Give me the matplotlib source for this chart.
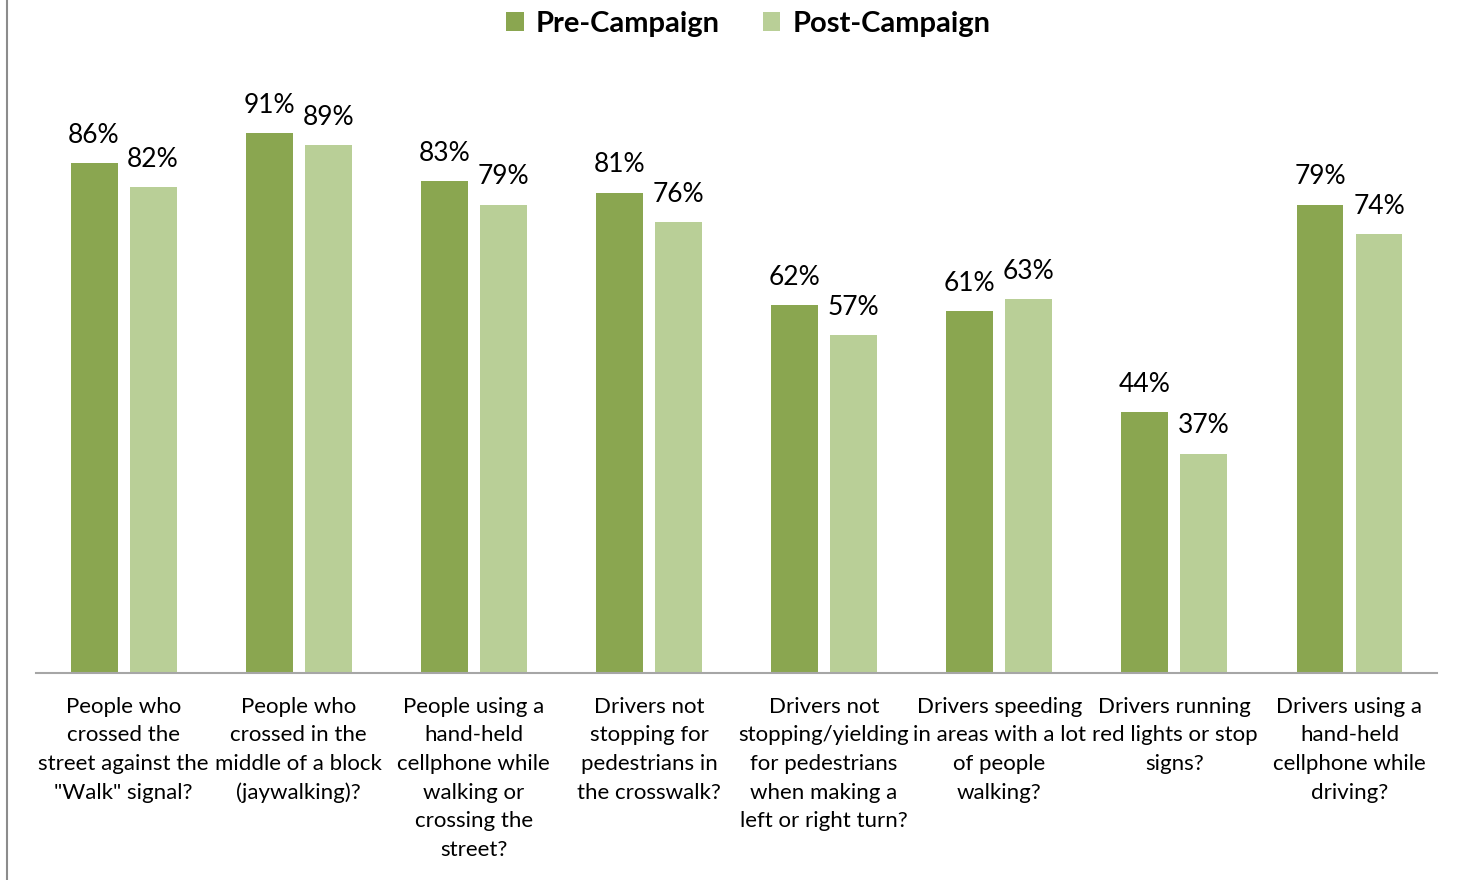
import matplotlib
matplotlib.use("Agg")
import matplotlib.pyplot as plt
import numpy as np
from matplotlib.lines import Line2D

categories = [
    'People who\ncrossed the\nstreet against the\n"Walk" signal?',
    'People who\ncrossed in the\nmiddle of a block\n(jaywalking)?',
    'People using a\nhand-held\ncellphone while\nwalking or\ncrossing the\nstreet?',
    'Drivers not\nstopping for\npedestrians in\nthe crosswalk?',
    'Drivers not\nstopping/yielding\nfor pedestrians\nwhen making a\nleft or right turn?',
    'Drivers speeding\nin areas with a lot\nof people\nwalking?',
    'Drivers running\nred lights or stop\nsigns?',
    'Drivers using a\nhand-held\ncellphone while\ndriving?',
]
pre = [86, 91, 83, 81, 62, 61, 44, 79]
post = [82, 89, 79, 76, 57, 63, 37, 74]

plt.rcParams['font.family'] = ['Lato', 'DejaVu Sans']

fig = plt.figure(figsize=(14.64, 8.8), dpi=100)
ax = fig.add_axes([0.0246, 0.2352, 0.957, 0.6738])

x = np.arange(len(categories))
w = 0.268
off = 0.1686
b1 = ax.bar(x - off, pre, w, color='#8aa650', label='Pre-Campaign')
b2 = ax.bar(x + off, post, w, color='#b9cf97', label='Post-Campaign')

for bars, vals in ((b1, pre), (b2, post)):
    for r, v in zip(bars, vals):
        ax.annotate(f'{v}%', (r.get_x() + r.get_width() / 2, v), xytext=(0, 11),
                    textcoords='offset points', ha='center', va='bottom', fontsize=19)

ax.set_xlim(-0.5, len(categories) - 0.5)
ax.set_ylim(0, 100)
ax.set_yticks([])
ax.set_xticks(x)
ax.set_xticklabels(categories, fontsize=16, linespacing=1.54, va='top')
ax.tick_params(axis='x', length=0, pad=17)
for s in ['top', 'right', 'left']:
    ax.spines[s].set_visible(False)
ax.spines['bottom'].set_color('#a6a6a6')
ax.spines['bottom'].set_linewidth(1.5)

fig.legend(loc='center', bbox_to_anchor=(0.511, 0.973), ncol=2, frameon=False,
           prop={'size': 21, 'weight': 'bold'}, handlelength=0.6, handleheight=0.6,
           columnspacing=1.5, handletextpad=0.4)

fig.add_artist(Line2D([0.0045, 0.0045], [0, 1], color='#8c8c8c', lw=1.5, transform=fig.transFigure))

fig.savefig('out.png', dpi=100)
